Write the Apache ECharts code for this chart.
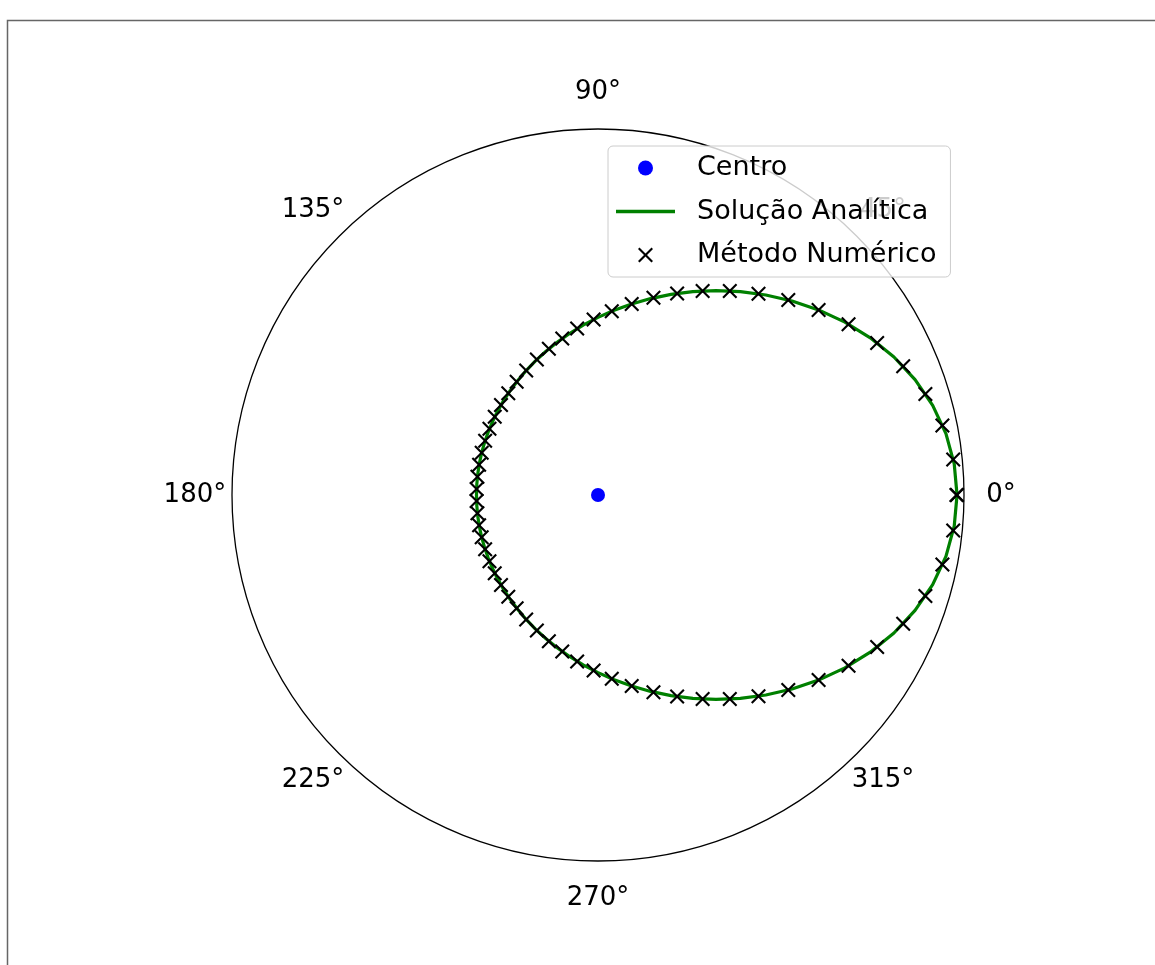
<!DOCTYPE html>
<html>
<head>
<meta charset="utf-8">
<script src="https://cdn.jsdelivr.net/npm/echarts@6/dist/echarts.min.js"></script>
<style>
  html, body { margin: 0; padding: 0; background: #ffffff; }
  #chart { width: 1155px; height: 965px; }
</style>
</head>
<body>
<div id="chart"></div>
<script>
// Analytical orbit r(theta), sampled every 5 degrees
const analyticAngles = [0,5,10,15,20,25,30,35,40,45,50,55,60,65,70,75,80,85,90,95,100,105,110,115,120,125,130,135,140,145,150,155,160,165,170,175,180,
  185,190,195,200,205,210,215,220,225,230,235,240,245,250,255,260,265,270,275,280,285,290,295,300,305,310,315,320,325,330,335,340,345,350,355,360];
const analyticR = [1.4715,1.4655,1.4480,1.4200,1.3828,1.3383,1.2885,1.2352,1.1801,1.1247,1.0701,1.0173,0.9669,0.9193,0.8748,0.8334,0.7952,0.7601,0.7279,0.6986,0.6719,0.6478,0.6260,0.6064,0.5888,0.5731,0.5592,0.5469,0.5362,0.5269,0.5191,0.5125,0.5072,0.5032,0.5003,0.4986,0.4980,
  0.4986,0.5003,0.5032,0.5072,0.5125,0.5191,0.5269,0.5362,0.5469,0.5592,0.5731,0.5888,0.6064,0.6260,0.6478,0.6719,0.6986,0.7279,0.7601,0.7952,0.8334,0.8748,0.9193,0.9669,1.0173,1.0701,1.1247,1.1801,1.2352,1.2885,1.3383,1.3828,1.4200,1.4480,1.4655,1.4715];

// Numerical solution points
const numericAngles = [0,5.714,11.429,17.143,22.857,28.571,34.286,40,45.714,51.429,57.143,62.857,68.571,74.286,80,85.714,91.429,97.143,102.857,108.571,114.286,120,125.714,131.429,137.143,142.857,148.571,154.286,160,165.714,171.429,177.143,
  182.857,188.571,194.286,200,205.714,211.429,217.143,222.857,228.571,234.286,240,245.714,251.429,257.143,262.857,268.571,274.286,280,285.714,291.429,297.143,302.857,308.571,314.286,320,325.714,331.429,337.143,342.857,348.571,354.286,360];
const numericR = [1.4715,1.4630,1.4400,1.4041,1.3574,1.3027,1.2428,1.1801,1.1169,1.0550,0.9957,0.9397,0.8875,0.8393,0.7952,0.7555,0.7195,0.6872,0.6581,0.6322,0.6092,0.5888,0.5711,0.5557,0.5423,0.5309,0.5213,0.5134,0.5072,0.5028,0.4998,0.4983,
  0.4983,0.4998,0.5028,0.5072,0.5134,0.5213,0.5309,0.5423,0.5557,0.5711,0.5888,0.6092,0.6322,0.6581,0.6872,0.7195,0.7555,0.7952,0.8393,0.8875,0.9397,0.9957,1.0550,1.1169,1.1801,1.2428,1.3027,1.3574,1.4041,1.4400,1.4630,1.4690];

// Central body
const centerPoint = [0, 0];

// Angular tick labels (degrees)
const angleTicks = [0, 45, 90, 135, 180, 225, 270, 315];
const RADIUS_MAX = 1.5;
const TICK_LABEL_R = 1.652;   // tick labels sit just outside the outer circle

const seriesNames = ['Centro', 'Solução Analítica', 'Método Numérico'];

// Filled "x" marker
const xMarker = 'path://M0,2L2,0L10,8L18,0L20,2L12,10L20,18L18,20L10,12L2,20L0,18L8,10Z';
const FONT = 'DejaVu Sans';

const chart = echarts.init(document.getElementById('chart'), null, { renderer: 'canvas' });

chart.setOption({
  animation: false,
  backgroundColor: '#ffffff',
  polar: { center: [598, 495], radius: 366 },
  angleAxis: {
    type: 'value', min: 0, max: 360, interval: 45,
    startAngle: 0, clockwise: false,
    axisLine: { show: true, lineStyle: { color: '#000000', width: 1.3 } },
    axisTick: { show: false },
    splitLine: { show: false },
    axisLabel: { show: false },
    z: 0
  },
  radiusAxis: { type: 'value', min: 0, max: RADIUS_MAX, show: false },
  legend: {
    orient: 'vertical', left: 608, top: 146,
    padding: [7, 14, 7, 8], itemGap: 13.5,
    itemWidth: 59, itemHeight: 15,
    selectedMode: false,
    z: 50,
    backgroundColor: 'rgba(255,255,255,0.8)',
    borderColor: '#cccccc', borderWidth: 1, borderRadius: 5,
    textStyle: { fontSize: 27, fontFamily: FONT, color: '#000000', lineHeight: 30, padding: [0, 0, 0, 17] },
    data: [
      { name: seriesNames[0], icon: 'circle', itemStyle: { color: '#0000ff', opacity: 1 } },
      { name: seriesNames[1], icon: 'path://M0,0H59V3.5H0Z', itemStyle: { color: '#008000', opacity: 1 } },
      { name: seriesNames[2], icon: xMarker, itemStyle: { color: '#000000', opacity: 1 } }
    ]
  },
  graphic: [{
    type: 'polyline', silent: true, z: 100,
    shape: { points: [[7.5, 965], [7.5, 20.5], [1155, 20.5]] },
    style: { stroke: '#666666', lineWidth: 1.5, fill: null }
  }],
  series: [
    {
      // angular tick labels placed through the polar scales
      type: 'scatter', coordinateSystem: 'polar', silent: true, clip: false,
      symbol: 'circle', symbolSize: 2, itemStyle: { color: '#ffffff', opacity: 0 },
      label: {
        show: true, position: 'inside', align: 'center', verticalAlign: 'middle',
        fontSize: 26, fontFamily: FONT, color: '#000000', opacity: 1,
        formatter: p => p.value[1] + '°'
      },
      labelLayout: { hideOverlap: false },
      data: angleTicks.map(a => [TICK_LABEL_R, a]), z: 1
    },
    {
      name: seriesNames[0], type: 'scatter', coordinateSystem: 'polar',
      symbol: 'circle', symbolSize: 14,
      itemStyle: { color: '#0000ff', opacity: 1 },
      data: [centerPoint], z: 2
    },
    {
      name: seriesNames[1], type: 'line', coordinateSystem: 'polar',
      showSymbol: false, symbol: 'none',
      lineStyle: { color: '#008000', width: 3.2 },
      itemStyle: { color: '#008000' },
      data: analyticR.map((r, i) => [r, analyticAngles[i]]), z: 3
    },
    {
      name: seriesNames[2], type: 'scatter', coordinateSystem: 'polar',
      symbol: xMarker, symbolSize: 15,
      itemStyle: { color: '#000000', opacity: 1 },
      data: numericR.map((r, i) => [r, numericAngles[i]]), z: 4
    }
  ]
});
</script>
</body>
</html>
